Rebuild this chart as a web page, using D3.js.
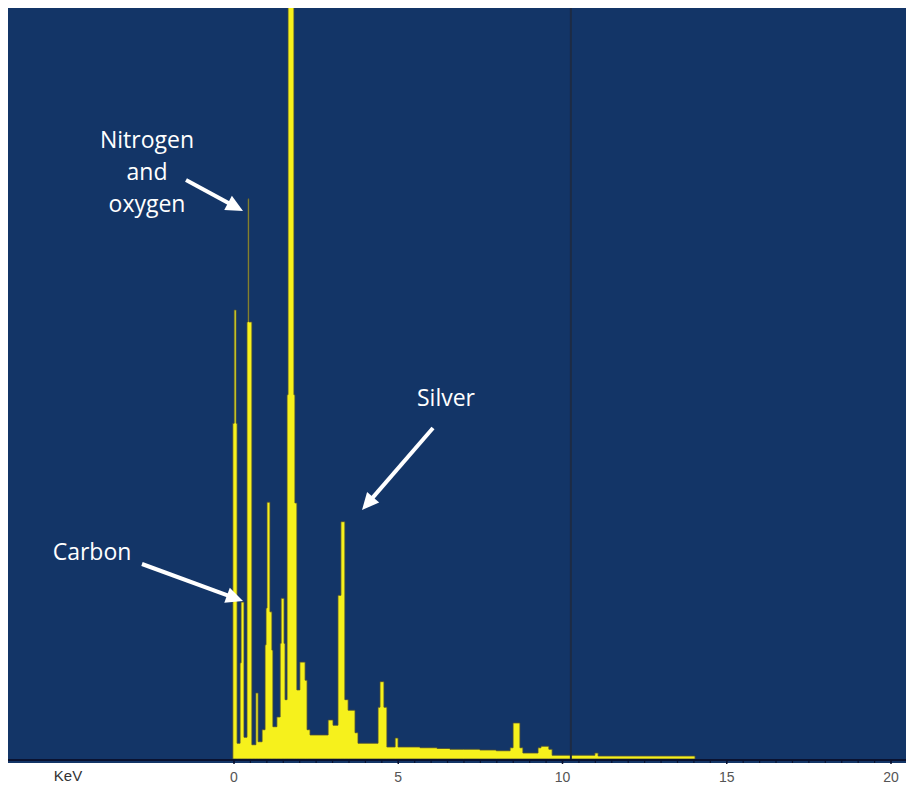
<!DOCTYPE html>
<html>
<head>
<meta charset="utf-8">
<script src="https://cdn.jsdelivr.net/npm/d3@7/dist/d3.min.js"></script>
<style>
  html, body { margin: 0; padding: 0; background: #ffffff; }
  svg { display: block; }
</style>
</head>
<body>
<svg id="chart" width="906" height="786"></svg>
<script>
// ---- data ----
// energy (keV) where each step of the spectrum starts
const energies = [-0.02, 0.02, 0.08, 0.11, 0.20, 0.23, 0.32, 0.41, 0.44, 0.47, 0.56, 0.59,
  0.68, 0.75, 0.87, 0.96, 0.99, 1.02, 1.11, 1.17, 1.20, 1.32, 1.42, 1.45, 1.54, 1.57,
  1.63, 1.66, 1.84, 1.87, 1.93, 2.02, 2.18, 2.24, 2.33, 2.88, 3.03, 3.18, 3.27, 3.39,
  3.49, 3.70, 3.79, 4.40, 4.46, 4.58, 4.67, 4.92, 5.01, 5.68, 6.20, 6.59, 7.00, 7.50,
  8.00, 8.42, 8.51, 8.72, 8.81, 9.27, 9.36, 9.60, 9.70, 11.00, 11.10, 14.05];
// counts (arbitrary units, 100 = top of the frame)
const counts = [44.7, 59.8, 44.7, 2.1, 12.8, 20.9, 2.9, 58.2, 74.6, 58.2, 1.9, 1.9,
  8.8, 2.3, 3.9, 15.2, 20.1, 34.2, 19.6, 14.5, 4.3, 5.6, 15.4, 21.4, 15.4, 7.9,
  48.5, 120, 48.5, 34.1, 9.2, 12.9, 10.5, 3.9, 3.2, 5.2, 4.5, 21.8, 31.6, 7.9,
  6.5, 3.5, 2.1, 6.9, 10.3, 6.9, 1.6, 2.8, 1.6, 1.5, 1.4, 1.3, 1.3, 1.2,
  1.1, 1.5, 4.8, 1.5, 0.8, 1.5, 1.7, 1.3, 0.5, 0.8, 0.4, 0];
const xTicks = [0, 5, 10, 15, 20];
const minorTicks = d3.range(0, 20.01, 0.5);
const markerEnergy = 10.27;
const axisTitle = "KeV";
const noteNO = ["Nitrogen", "and", "oxygen"];
const noteAg = "Silver";
const noteC = "Carbon";

// ---- layout ----
const svg = d3.select("#chart");
const frame = { left: 8, top: 8, right: 906, bottom: 763 };
const baseY = 759;
const x = d3.scaleLinear().domain([0, 20]).range([233.5, 890.5]);
const y = d3.scaleLinear().domain([0, 100]).range([baseY, frame.top]);

svg.append("defs").append("clipPath").attr("id", "clip")
  .append("rect").attr("x", frame.left).attr("y", frame.top)
  .attr("width", frame.right - frame.left).attr("height", baseY - frame.top);

svg.append("rect")
  .attr("x", frame.left).attr("y", frame.top)
  .attr("width", frame.right - frame.left).attr("height", frame.bottom - frame.top)
  .attr("fill", "#133567");

const data = energies.map((e, i) => ({ e, c: counts[i] }));

const area = d3.area()
  .x(d => x(d.e))
  .y0(y(0))
  .y1(d => y(d.c))
  .curve(d3.curveStepAfter);

svg.append("path")
  .datum(data)
  .attr("clip-path", "url(#clip)")
  .attr("d", area)
  .attr("fill", "#f6f11c")
  .attr("stroke", "#4a4d3a")
  .attr("stroke-width", 0.8)
  .attr("stroke-linejoin", "miter");

// vertical marker line
svg.append("line")
  .attr("x1", x(markerEnergy)).attr("x2", x(markerEnergy))
  .attr("y1", frame.top).attr("y2", baseY)
  .attr("stroke", "#1d2b44").attr("stroke-width", 2);

// baseline
svg.append("line")
  .attr("x1", frame.left).attr("x2", frame.right)
  .attr("y1", baseY + 1).attr("y2", baseY + 1)
  .attr("stroke", "#0a1230").attr("stroke-width", 2);

// minor ticks
const minorAxis = d3.axisBottom(x).tickValues(minorTicks).tickSize(3).tickFormat("");
const gMinor = svg.append("g").attr("transform", `translate(0,${baseY + 1})`).call(minorAxis);
gMinor.select(".domain").remove();
gMinor.selectAll(".tick line").attr("stroke", "#0a1230").attr("stroke-width", 1.2);

// major tick labels
const majorAxis = d3.axisBottom(x).tickValues(xTicks).tickSize(4).tickPadding(8).tickFormat(d3.format("d"));
const gMajor = svg.append("g").attr("transform", `translate(0,${baseY + 1})`).call(majorAxis);
gMajor.select(".domain").remove();
gMajor.selectAll(".tick line").attr("stroke", "#0a1230").attr("stroke-width", 1.5);
gMajor.selectAll(".tick text")
  .attr("font-family", "Liberation Sans, Arial, sans-serif")
  .attr("font-size", 14)
  .attr("fill", "#555555");

svg.append("text")
  .attr("x", 68).attr("y", 781)
  .attr("text-anchor", "middle")
  .attr("font-family", "Liberation Sans, Arial, sans-serif")
  .attr("font-size", 15)
  .attr("fill", "#333333")
  .text(axisTitle);

// annotations
const noteFont = "Open Sans, Lato, sans-serif";
const g = svg.append("g").attr("fill", "#ffffff").attr("font-family", noteFont).attr("font-size", 23);
noteNO.forEach((t, i) => {
  g.append("text").attr("x", 147).attr("y", 148 + i * 32).attr("text-anchor", "middle").text(t);
});
g.append("text").attr("x", 446).attr("y", 406).attr("text-anchor", "middle").text(noteAg);
g.append("text").attr("x", 92).attr("y", 560).attr("text-anchor", "middle").text(noteC);

function arrow(x1, y1, x2, y2) {
  const ang = Math.atan2(y2 - y1, x2 - x1);
  const hl = 17, hw = 8;
  const bx = x2 - hl * Math.cos(ang), by = y2 - hl * Math.sin(ang);
  svg.append("line")
    .attr("x1", x1).attr("y1", y1).attr("x2", bx + 2 * Math.cos(ang)).attr("y2", by + 2 * Math.sin(ang))
    .attr("stroke", "#ffffff").attr("stroke-width", 4);
  const px = -Math.sin(ang), py = Math.cos(ang);
  svg.append("polygon")
    .attr("points", [[x2, y2], [bx + hw * px, by + hw * py], [bx - hw * px, by - hw * py]].map(p => p.join(",")).join(" "))
    .attr("fill", "#ffffff");
}
arrow(186, 180, 243, 211);
arrow(433, 428, 362, 510);
arrow(142, 564, 243, 601);
</script>
</body>
</html>
